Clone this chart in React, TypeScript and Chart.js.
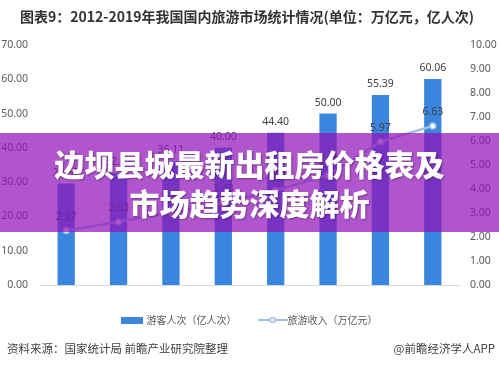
import React, { useEffect, useRef } from "react";
import { Chart, registerables } from "chart.js";

Chart.register(...registerables);

const years = ["2012", "2013", "2014", "2015", "2016", "2017", "2018", "2019"];
const visitors = [29.57, 32.62, 36.11, 40.0, 44.4, 50.0, 55.39, 60.06];
const revenue = [2.27, 2.63, 3.03, 3.43, 3.94, 4.57, 5.97, 6.63];
const visitorsLabel = "游客人次（亿人次）";
const revenueLabel = "旅游收入（万亿元）";
const titleText = "图表9：2012-2019年我国国内旅游市场统计情况(单位：万亿元，亿人次)";
const sourceText = "资料来源：国家统计局 前瞻产业研究院整理";
const brandText = "@前瞻经济学人APP";
const bannerLines = ["边坝县城最新出租房价格表及", "市场趋势深度解析"];

const BAR_COLOR = "#3a86de";
const LINE_COLOR = "#a3bfe6";
const NUM_FONT = '"Noto Sans", "Noto Sans CJK SC", sans-serif';
const CJK_FONT = '"Noto Sans CJK SC", "Noto Sans", sans-serif';

function makeBarIcon(): HTMLCanvasElement {
  const c = document.createElement("canvas");
  c.width = 22;
  c.height = 7;
  const g = c.getContext("2d")!;
  g.fillStyle = BAR_COLOR;
  g.fillRect(0, 0, 22, 7);
  return c;
}

function makeLineIcon(): HTMLCanvasElement {
  const c = document.createElement("canvas");
  c.width = 30;
  c.height = 8;
  const g = c.getContext("2d")!;
  g.strokeStyle = LINE_COLOR;
  g.lineWidth = 2;
  g.beginPath();
  g.moveTo(0, 4);
  g.lineTo(30, 4);
  g.stroke();
  g.fillStyle = "#ffffff";
  g.beginPath();
  g.arc(15, 4, 2.5, 0, Math.PI * 2);
  g.fill();
  g.lineWidth = 1.5;
  g.stroke();
  return c;
}

const valueLabels = {
  id: "valueLabels",
  afterDatasetsDraw(chart: any) {
    const ctx = chart.ctx;
    ctx.save();
    ctx.font = `10.5px ${NUM_FONT}`;
    ctx.fillStyle = "#404040";
    ctx.textAlign = "center";
    ctx.textBaseline = "middle";
    chart.getDatasetMeta(0).data.forEach((el: any, i: number) => {
      ctx.fillText(visitors[i].toFixed(2), el.x, el.y - 11);
    });
    chart.getDatasetMeta(1).data.forEach((el: any, i: number) => {
      ctx.fillText(revenue[i].toFixed(2), el.x, el.y - 14);
    });
    ctx.restore();
  },
};

export default function App() {
  const ref = useRef<HTMLCanvasElement | null>(null);

  useEffect(() => {
    if (!ref.current) return;
    const barIcon = makeBarIcon();
    const lineIcon = makeLineIcon();
    const tickFont = { family: NUM_FONT, size: 10.5 };
    const chart = new Chart(ref.current, {
      type: "bar",
      data: {
        labels: years,
        datasets: [
          {
            type: "bar",
            label: visitorsLabel,
            data: visitors,
            backgroundColor: BAR_COLOR,
            yAxisID: "y",
            order: 2,
            categoryPercentage: 1,
            barPercentage: 0.33,
          },
          {
            type: "line",
            label: revenueLabel,
            data: revenue,
            borderColor: LINE_COLOR,
            borderWidth: 2.5,
            pointRadius: 3,
            pointBackgroundColor: "#ffffff",
            pointBorderColor: LINE_COLOR,
            pointBorderWidth: 1.5,
            yAxisID: "y1",
            order: 1,
          } as any,
        ],
      },
      options: {
        responsive: false,
        animation: false,
        layout: { padding: { top: 45, bottom: 31, left: 0, right: 0 } },
        plugins: {
          tooltip: { enabled: false },
          title: { display: false },
          legend: {
            position: "bottom",
            labels: {
              usePointStyle: true,
              pointStyleWidth: 20,
              padding: 26,
              color: "#595959",
              font: { family: CJK_FONT, size: 10 },
              generateLabels: () => [
                {
                  text: visitorsLabel,
                  pointStyle: barIcon as any,
                  fillStyle: BAR_COLOR,
                  strokeStyle: BAR_COLOR,
                  lineWidth: 0,
                  hidden: false,
                  datasetIndex: 0,
                  fontColor: "#595959",
                },
                {
                  text: revenueLabel,
                  pointStyle: lineIcon as any,
                  fillStyle: "#fff",
                  strokeStyle: LINE_COLOR,
                  lineWidth: 0,
                  hidden: false,
                  datasetIndex: 1,
                  fontColor: "#595959",
                },
              ],
            },
          },
        },
        scales: {
          x: {
            grid: { display: false, drawTicks: false },
            border: { display: true, color: "#d9d9d9", width: 1 },
            ticks: { padding: 8, color: "#595959", font: tickFont },
            afterFit: (s: any) => {
              s.height = 4;
            },
          },
          y: {
            position: "left",
            min: 0,
            max: 70,
            grid: { display: false, drawTicks: false },
            border: { display: false },
            ticks: {
              stepSize: 10,
              padding: 12,
              color: "#595959",
              font: tickFont,
              callback: (v: any) => Number(v).toFixed(2),
            },
            afterFit: (s: any) => {
              s.width = 40;
            },
          },
          y1: {
            position: "right",
            min: 0,
            max: 10,
            grid: { display: false, drawTicks: false },
            border: { display: false },
            ticks: {
              stepSize: 1,
              padding: 11,
              color: "#595959",
              font: tickFont,
              callback: (v: any) => Number(v).toFixed(2),
            },
            afterFit: (s: any) => {
              s.width = 40;
            },
          },
        },
      } as any,
      plugins: [valueLabels],
    });
    return () => chart.destroy();
  }, []);

  return (
    <div
      style={{
        position: "fixed",
        left: 0,
        top: 0,
        width: 499,
        height: 366,
        background: "#ffffff",
        overflow: "hidden",
      }}
    >
      <canvas ref={ref} width={499} height={366} style={{ position: "absolute", left: 0, top: 0 }} />
      <div
        style={{
          position: "absolute",
          left: 20,
          top: 7,
          whiteSpace: "nowrap",
          font: `bold 14px ${CJK_FONT}`,
          lineHeight: "18px",
          color: "#333333",
        }}
      >
        {titleText}
      </div>
      <div
        style={{
          position: "absolute",
          left: 0,
          top: 133,
          width: 499,
          height: 99,
          background: "rgba(146, 19, 186, 0.72)",
          display: "flex",
          flexDirection: "column",
          alignItems: "center",
          justifyContent: "center",
          color: "#ffffff",
          font: `900 30px ${CJK_FONT}`,
          lineHeight: "39px",
          textShadow: "1px 1px 2px rgba(0,0,0,0.35)",
          whiteSpace: "nowrap",
        }}
      >
        {bannerLines.map((l) => (
          <div key={l}>{l}</div>
        ))}
      </div>
      <div
        style={{
          position: "absolute",
          left: 7,
          top: 340,
          whiteSpace: "nowrap",
          font: `11.5px ${CJK_FONT}`,
          lineHeight: "16px",
          color: "#404040",
        }}
      >
        {sourceText}
      </div>
      <div
        style={{
          position: "absolute",
          right: 4,
          top: 340,
          whiteSpace: "nowrap",
          font: `11.5px ${CJK_FONT}`,
          lineHeight: "16px",
          color: "#404040",
        }}
      >
        {brandText}
      </div>
    </div>
  );
}
